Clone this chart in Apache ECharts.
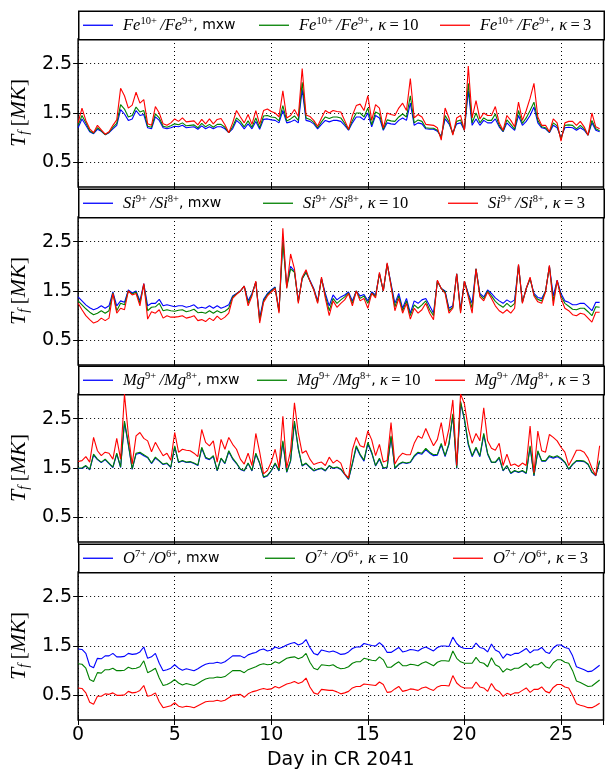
<!DOCTYPE html>
<html><head><meta charset="utf-8">
<script src="https://cdn.jsdelivr.net/npm/echarts@6/dist/echarts.min.js"></script>
<style>html,body{margin:0;padding:0;background:#fff}#c{width:605px;height:772px}</style>
</head><body><div id="c"></div>
<script>
// ---------------- data ----------------
const days = [0,0.2,0.4,0.6,0.8,1,1.2,1.4,1.6,1.8,2,2.2,2.4,2.6,2.8,3,3.2,3.4,3.6,3.8,
4,4.2,4.4,4.6,4.8,5,5.2,5.4,5.6,5.8,6,6.2,6.4,6.6,6.8,7,7.2,7.4,7.6,7.8,
8,8.2,8.4,8.6,8.8,9,9.2,9.4,9.6,9.8,10,10.2,10.4,10.6,10.8,11,11.2,11.4,11.6,11.8,
12,12.2,12.4,12.6,12.8,13,13.2,13.4,13.6,13.8,14,14.2,14.4,14.6,14.8,15,15.2,15.4,15.6,15.8,
16,16.2,16.4,16.6,16.8,17,17.2,17.4,17.6,17.8,18,18.2,18.4,18.6,18.8,19,19.2,19.4,19.6,19.8,
20,20.2,20.4,20.6,20.8,21,21.2,21.4,21.6,21.8,22,22.2,22.4,22.6,22.8,23,23.2,23.4,23.6,23.8,
24,24.2,24.4,24.6,24.8,25,25.2,25.4,25.6,25.8,26,26.2,26.4,26.6,26.8,27];

const feMxw = [1.20,1.38,1.25,1.12,1.08,1.17,1.13,1.06,1.10,1.18,
1.25,1.57,1.48,1.35,1.38,1.55,1.45,1.47,1.20,1.18,
1.42,1.35,1.20,1.18,1.20,1.23,1.22,1.25,1.20,1.21,
1.22,1.17,1.24,1.18,1.22,1.18,1.22,1.22,1.18,1.10,
1.18,1.35,1.28,1.18,1.28,1.18,1.33,1.17,1.37,1.38,
1.36,1.35,1.30,1.55,1.30,1.32,1.36,1.30,1.98,1.35,
1.33,1.28,1.18,1.27,1.35,1.32,1.35,1.35,1.33,1.25,
1.15,1.30,1.42,1.42,1.36,1.50,1.22,1.45,1.40,1.15,
1.30,1.28,1.27,1.35,1.40,1.35,1.70,1.25,1.30,1.28,
1.18,1.17,1.17,1.13,1.03,1.38,1.28,1.10,1.28,1.30,
1.15,1.95,1.25,1.38,1.25,1.35,1.30,1.30,1.38,1.22,
1.12,1.30,1.22,1.15,1.45,1.25,1.33,1.45,1.62,1.30,
1.20,1.18,1.10,1.25,1.20,1.00,1.20,1.21,1.20,1.15,
1.20,1.15,1.05,1.30,1.15,1.12];
const feK10 = [1.25,1.45,1.30,1.14,1.09,1.20,1.14,1.06,1.11,1.21,
1.29,1.67,1.58,1.42,1.45,1.62,1.52,1.55,1.23,1.21,
1.48,1.40,1.23,1.21,1.24,1.28,1.26,1.30,1.24,1.25,
1.26,1.20,1.29,1.22,1.27,1.21,1.27,1.27,1.21,1.10,
1.22,1.40,1.33,1.22,1.34,1.21,1.40,1.20,1.44,1.45,
1.42,1.41,1.34,1.65,1.34,1.38,1.44,1.35,2.12,1.40,
1.37,1.31,1.20,1.32,1.42,1.39,1.42,1.42,1.40,1.29,
1.16,1.35,1.50,1.50,1.42,1.60,1.26,1.52,1.48,1.17,
1.36,1.34,1.33,1.42,1.48,1.42,1.85,1.30,1.36,1.33,
1.20,1.19,1.19,1.15,1.00,1.45,1.32,1.07,1.33,1.36,
1.15,2.10,1.30,1.50,1.30,1.40,1.35,1.35,1.48,1.25,
1.13,1.36,1.27,1.17,1.55,1.29,1.40,1.55,1.72,1.35,
1.22,1.20,1.11,1.30,1.24,0.97,1.25,1.26,1.25,1.18,
1.25,1.18,1.05,1.35,1.18,1.14];
const feK3 = [1.30,1.60,1.35,1.18,1.10,1.25,1.16,1.07,1.12,1.25,
1.36,2.00,1.85,1.60,1.66,1.92,1.70,1.77,1.28,1.25,
1.63,1.50,1.28,1.25,1.30,1.38,1.33,1.40,1.32,1.33,
1.34,1.26,1.37,1.28,1.38,1.28,1.37,1.39,1.26,1.10,
1.30,1.55,1.42,1.30,1.47,1.27,1.55,1.27,1.55,1.58,
1.53,1.50,1.42,1.95,1.40,1.45,1.57,1.43,2.40,1.46,
1.43,1.35,1.23,1.40,1.55,1.50,1.55,1.53,1.52,1.35,
1.17,1.45,1.65,1.68,1.55,1.85,1.35,1.67,1.60,1.20,
1.50,1.47,1.45,1.60,1.70,1.55,2.20,1.40,1.47,1.42,
1.27,1.26,1.25,1.20,0.95,1.60,1.40,1.05,1.40,1.45,
1.15,2.45,1.40,1.75,1.38,1.50,1.45,1.45,1.63,1.30,
1.15,1.45,1.35,1.22,1.72,1.35,1.55,1.80,2.10,1.42,
1.25,1.25,1.12,1.38,1.30,0.93,1.30,1.33,1.33,1.25,
1.33,1.22,1.05,1.50,1.22,1.18];

const siMxw = [1.38,1.30,1.22,1.16,1.12,1.15,1.20,1.15,1.20,1.48,
1.20,1.30,1.27,1.52,1.46,1.50,1.30,1.65,1.20,1.25,
1.25,1.33,1.20,1.22,1.20,1.18,1.20,1.20,1.17,1.19,
1.22,1.15,1.17,1.15,1.20,1.15,1.20,1.15,1.18,1.22,
1.40,1.45,1.50,1.60,1.30,1.45,1.68,0.95,1.33,1.45,
1.52,1.58,1.10,2.55,1.60,2.00,1.90,1.30,1.75,1.88,
1.72,1.55,1.30,1.75,1.45,1.20,1.42,1.32,1.38,1.42,
1.48,1.30,1.50,1.40,1.43,1.30,1.48,1.42,1.85,1.50,
2.05,1.65,1.25,1.45,1.15,1.35,1.05,1.30,1.25,1.32,
1.35,1.20,1.05,1.70,1.55,1.50,1.15,1.20,1.85,1.12,
1.70,1.45,1.25,1.95,1.45,1.38,1.52,1.45,1.36,1.30,
1.25,1.32,1.27,1.32,2.02,1.28,1.55,1.75,1.45,1.37,
1.35,1.50,2.00,1.40,1.72,1.45,1.30,1.27,1.22,1.22,
1.25,1.25,1.18,1.10,1.27,1.27];
const siK10 = [1.30,1.22,1.14,1.07,1.02,1.05,1.10,1.05,1.10,1.46,
1.10,1.25,1.22,1.50,1.44,1.48,1.25,1.63,1.10,1.17,
1.18,1.25,1.10,1.12,1.10,1.09,1.11,1.12,1.08,1.10,
1.13,1.06,1.07,1.05,1.10,1.05,1.10,1.06,1.09,1.15,
1.38,1.44,1.50,1.60,1.25,1.43,1.68,0.90,1.30,1.43,
1.50,1.57,1.08,2.50,1.57,1.95,1.88,1.28,1.75,1.88,
1.70,1.53,1.27,1.75,1.40,1.10,1.35,1.25,1.32,1.38,
1.46,1.25,1.50,1.35,1.40,1.25,1.46,1.39,1.85,1.50,
2.05,1.62,1.18,1.40,1.10,1.30,1.00,1.22,1.15,1.22,
1.30,1.12,1.00,1.70,1.55,1.48,1.10,1.17,1.85,1.08,
1.70,1.42,1.15,1.95,1.42,1.34,1.50,1.40,1.29,1.22,
1.17,1.25,1.18,1.25,2.02,1.27,1.55,1.75,1.42,1.33,
1.30,1.50,2.00,1.30,1.70,1.40,1.25,1.19,1.13,1.12,
1.15,1.15,1.08,1.00,1.18,1.17];
const siK3 = [1.25,1.12,1.00,0.92,0.85,0.88,0.95,0.90,0.95,1.45,
1.05,1.15,1.12,1.50,1.42,1.45,1.20,1.65,0.93,1.08,
1.05,1.12,0.95,1.00,0.97,0.97,0.98,1.00,0.95,0.97,
1.00,0.90,0.92,0.88,0.95,0.90,0.99,0.92,0.97,1.05,
1.35,1.43,1.50,1.60,1.20,1.40,1.70,0.85,1.27,1.40,
1.48,1.55,1.05,2.77,1.55,2.25,1.95,1.25,1.78,1.93,
1.70,1.52,1.25,1.78,1.35,1.00,1.30,1.17,1.25,1.32,
1.45,1.20,1.50,1.30,1.35,1.15,1.45,1.36,1.88,1.50,
2.07,1.60,1.10,1.35,1.05,1.25,0.93,1.15,1.05,1.12,
1.25,1.05,0.92,1.72,1.55,1.45,1.05,1.15,1.85,1.05,
1.70,1.38,1.05,1.95,1.38,1.30,1.48,1.35,1.20,1.10,
1.05,1.12,1.05,1.15,2.04,1.25,1.55,1.78,1.40,1.28,
1.25,1.48,2.02,1.20,1.72,1.35,1.15,1.10,1.02,1.00,
1.05,1.03,0.95,0.87,1.07,1.07];

const mgMxw = [1.49,1.49,1.54,1.46,1.76,1.67,1.61,1.67,1.59,1.51,
1.78,1.51,2.42,1.97,1.47,1.78,1.80,1.75,1.71,1.59,
1.70,1.64,1.57,1.59,1.51,1.93,1.61,1.64,1.61,1.62,
1.59,1.55,1.90,1.70,1.67,1.73,1.44,1.69,1.59,1.83,
1.68,1.59,1.47,1.44,1.59,1.44,1.78,1.59,1.31,1.34,
1.44,1.58,1.44,2.02,1.41,1.64,2.42,1.88,1.54,1.59,
1.51,1.44,1.47,1.49,1.44,1.54,1.49,1.51,1.47,1.37,
1.27,1.58,1.92,1.76,1.64,1.99,1.80,1.54,1.68,1.49,
1.51,2.12,1.49,1.57,1.61,1.59,1.61,1.73,1.80,1.78,
1.87,1.80,1.75,1.76,1.97,1.73,1.98,2.57,1.49,2.82,
2.47,1.97,1.73,1.90,1.73,2.17,1.78,1.61,1.61,1.70,
1.44,1.54,1.39,1.44,1.41,1.44,1.39,1.92,1.34,1.83,
1.64,1.64,1.73,1.70,1.73,1.68,1.61,1.47,1.57,1.64,
1.64,1.63,1.57,1.41,1.34,1.63];
const mgK10 = [1.50,1.50,1.55,1.47,1.78,1.68,1.62,1.68,1.60,1.52,
1.80,1.52,2.45,2.00,1.48,1.80,1.82,1.77,1.72,1.60,
1.72,1.65,1.58,1.60,1.52,1.95,1.62,1.65,1.62,1.63,
1.60,1.56,1.92,1.72,1.68,1.75,1.45,1.70,1.60,1.85,
1.70,1.60,1.48,1.45,1.60,1.45,1.80,1.60,1.32,1.35,
1.45,1.60,1.45,2.05,1.42,1.65,2.45,1.90,1.55,1.60,
1.52,1.45,1.48,1.50,1.45,1.55,1.50,1.52,1.48,1.38,
1.28,1.60,1.95,1.78,1.66,2.02,1.82,1.55,1.70,1.50,
1.52,2.15,1.50,1.58,1.62,1.60,1.62,1.75,1.82,1.80,
1.90,1.82,1.77,1.78,2.00,1.75,2.00,2.60,1.50,2.85,
2.50,2.00,1.75,1.92,1.75,2.20,1.80,1.62,1.62,1.72,
1.45,1.55,1.40,1.45,1.42,1.45,1.40,1.95,1.35,1.85,
1.65,1.65,1.75,1.72,1.75,1.70,1.62,1.48,1.58,1.65,
1.65,1.64,1.58,1.42,1.35,1.65];
const mgK3 = [1.63,1.65,1.73,1.62,2.12,1.85,1.75,1.82,1.80,1.68,
2.10,1.68,3.00,2.18,1.58,2.15,2.22,2.10,2.05,1.83,
2.02,1.88,1.75,1.80,1.66,2.22,1.82,1.88,1.86,1.85,
1.80,1.73,2.28,2.02,1.95,2.05,1.62,2.08,1.88,2.12,
1.98,1.88,1.68,1.58,1.80,1.55,2.20,1.82,1.38,1.45,
1.62,1.88,1.50,2.55,1.50,1.85,2.82,2.20,1.80,1.85,
1.68,1.57,1.60,1.62,1.55,1.72,1.60,1.66,1.60,1.38,
1.30,1.87,2.12,1.95,1.92,2.25,2.07,1.75,1.98,1.62,
1.65,2.42,1.58,1.72,1.80,1.77,1.77,2.00,2.15,2.10,
2.30,2.12,1.95,2.08,2.42,1.95,2.30,2.88,1.55,3.00,
2.80,2.30,2.00,2.20,2.05,2.72,2.05,1.90,1.86,2.00,
1.55,1.78,1.55,1.58,1.53,1.60,1.55,2.35,1.40,2.25,
1.85,1.82,2.18,2.12,2.05,1.92,1.82,1.55,1.70,1.86,
1.86,1.82,1.70,1.50,1.35,1.95];

const oMxw = [1.44,1.43,1.35,1.10,1.06,1.25,1.24,1.30,1.30,1.35,
1.28,1.28,1.29,1.35,1.33,1.34,1.38,1.48,1.25,1.28,
1.35,1.15,1.00,1.02,1.05,1.12,1.05,1.01,1.04,1.02,
1.00,1.04,1.09,1.13,1.15,1.15,1.17,1.15,1.18,1.24,
1.30,1.30,1.30,1.26,1.32,1.35,1.37,1.42,1.44,1.40,
1.42,1.48,1.45,1.48,1.52,1.55,1.57,1.52,1.55,1.63,
1.47,1.35,1.32,1.42,1.40,1.38,1.40,1.37,1.33,1.34,
1.38,1.45,1.48,1.48,1.55,1.53,1.51,1.50,1.57,1.50,
1.37,1.37,1.42,1.47,1.38,1.40,1.43,1.42,1.40,1.45,
1.48,1.44,1.40,1.47,1.50,1.50,1.49,1.68,1.55,1.48,
1.45,1.45,1.45,1.56,1.47,1.45,1.38,1.54,1.42,1.38,
1.25,1.34,1.31,1.35,1.35,1.40,1.45,1.36,1.42,1.42,
1.47,1.38,1.35,1.46,1.52,1.52,1.47,1.45,1.30,1.08,
1.05,1.02,0.98,0.99,1.05,1.11];
const oK10 = [1.14,1.13,1.05,0.82,0.78,0.96,0.95,1.02,1.02,1.05,
1.00,1.00,1.01,1.07,1.04,1.05,1.08,1.20,0.96,1.00,
1.05,0.85,0.70,0.72,0.76,0.82,0.75,0.71,0.74,0.72,
0.70,0.74,0.79,0.83,0.85,0.85,0.87,0.86,0.88,0.94,
1.00,1.00,1.00,0.96,1.02,1.05,1.08,1.12,1.14,1.12,
1.13,1.18,1.15,1.20,1.25,1.27,1.28,1.24,1.27,1.35,
1.17,1.05,1.02,1.12,1.11,1.10,1.12,1.07,1.04,1.05,
1.08,1.15,1.18,1.18,1.25,1.23,1.21,1.20,1.28,1.22,
1.07,1.07,1.13,1.18,1.10,1.10,1.13,1.12,1.10,1.15,
1.18,1.14,1.10,1.17,1.20,1.20,1.19,1.40,1.25,1.18,
1.15,1.15,1.15,1.27,1.17,1.15,1.08,1.26,1.12,1.08,
0.97,1.04,1.01,1.05,1.05,1.10,1.15,1.06,1.12,1.12,
1.17,1.08,1.05,1.16,1.22,1.22,1.17,1.15,1.00,0.79,
0.76,0.72,0.68,0.69,0.75,0.81];
const oK3 = [0.65,0.64,0.55,0.36,0.32,0.48,0.48,0.53,0.52,0.55,
0.50,0.50,0.51,0.58,0.55,0.56,0.60,0.70,0.48,0.50,
0.55,0.37,0.25,0.27,0.29,0.35,0.28,0.26,0.28,0.27,
0.25,0.29,0.33,0.37,0.38,0.38,0.40,0.38,0.40,0.45,
0.50,0.51,0.52,0.46,0.53,0.57,0.59,0.62,0.64,0.62,
0.63,0.68,0.65,0.69,0.73,0.75,0.78,0.74,0.77,0.85,
0.67,0.55,0.52,0.62,0.61,0.60,0.60,0.57,0.53,0.55,
0.58,0.65,0.68,0.68,0.73,0.72,0.71,0.70,0.77,0.72,
0.56,0.57,0.63,0.68,0.58,0.60,0.63,0.62,0.60,0.65,
0.67,0.63,0.60,0.67,0.70,0.70,0.69,0.90,0.75,0.68,
0.65,0.65,0.65,0.77,0.67,0.65,0.58,0.74,0.62,0.58,
0.48,0.54,0.51,0.55,0.55,0.60,0.65,0.56,0.62,0.62,
0.67,0.58,0.55,0.66,0.72,0.72,0.67,0.65,0.50,0.33,
0.30,0.28,0.25,0.25,0.29,0.34];

const xTicks = [0, 5, 10, 15, 20, 25];
const yTicks = [0.5, 1.5, 2.5];
const ions = [
  {el: 'Fe', hi: '10+', lo: '9+', mxw: feMxw, k10: feK10, k3: feK3},
  {el: 'Si', hi: '9+',  lo: '8+', mxw: siMxw, k10: siK10, k3: siK3},
  {el: 'Mg', hi: '9+',  lo: '8+', mxw: mgMxw, k10: mgK10, k3: mgK3},
  {el: 'O',  hi: '7+',  lo: '6+', mxw: oMxw,  k10: oK10,  k3: oK3}
];
const kinds = ['mxw', 'k10', 'k3'];
const kindText = {mxw: '{n|, mxw}', k10: '{n|, }{m|κ}{u|\u2009=\u200910}', k3: '{n|, }{m|κ}{u|\u2009=\u20093}'};

// ---------------- layout / style ----------------
const colors = {mxw: '#0000ff', k10: '#008000', k3: '#ff0000'};
const GL = 78, GR = 1.5, PH = 148, LH = 28.5;
const plotTops = [39, 217, 394, 572];
const legendLefts = [[83, 259, 440], [83, 263, 448], [83, 257, 435], [83, 265, 453]];
const XMAX = 27.2;

const rich = {
  sp: {width: 5},
  m: {fontFamily: 'Liberation Serif', fontStyle: 'italic', fontSize: 16.5, color: '#000', lineHeight: 20},
  s: {fontFamily: 'Liberation Serif', fontSize: 10.5, color: '#000', verticalAlign: 'top', lineHeight: 10},
  u: {fontFamily: 'Liberation Serif', fontSize: 16.5, color: '#000', lineHeight: 20},
  n: {fontFamily: 'DejaVu Sans', fontSize: 14, color: '#000', lineHeight: 20}
};

const grids = [], xAxes = [], yAxes = [], series = [], legends = [], graphics = [];
const labelOf = {};

ions.forEach((ion, i) => {
  const top = plotTops[i];
  grids.push({left: GL, right: GR, top: top, height: PH, show: true, borderColor: '#000', borderWidth: 1.5, backgroundColor: 'transparent'});
  const tickStyle = {show: true, inside: true, length: 5, lineStyle: {color: '#000', width: 1}};
  xAxes.push({
    gridIndex: i, type: 'value', min: 0, max: XMAX, interval: 5, position: 'bottom',
    axisLine: {show: false}, axisTick: tickStyle,
    axisLabel: {show: i === 3, showMaxLabel: false, fontFamily: 'DejaVu Sans', fontSize: 19, color: '#000', margin: 6},
    splitLine: {show: true, lineStyle: {type: [1, 3], color: '#000', width: 1}},
    name: i === 3 ? 'Day in CR 2041' : '', nameLocation: 'middle', nameGap: 31,
    nameTextStyle: {fontFamily: 'DejaVu Sans', fontSize: 19, color: '#000'}
  });
  xAxes.push({
    gridIndex: i, type: 'value', min: 0, max: XMAX, interval: 5, position: 'top',
    axisLine: {show: false}, axisTick: tickStyle, axisLabel: {show: false}, splitLine: {show: false}
  });
  yAxes.push({
    gridIndex: i, type: 'value', min: 0, max: 3, interval: 0.5, position: 'left',
    axisLine: {show: false},
    axisTick: Object.assign({customValues: yTicks}, tickStyle),
    axisLabel: {customValues: yTicks, fontFamily: 'DejaVu Sans', fontSize: 19, color: '#000', margin: 6,
      formatter: v => v.toFixed(1)},
    splitLine: {show: false},
    name: '{t|T}{f|f}{b|\u2009[}{t|MK}{b|]}', nameLocation: 'middle', nameGap: 46, nameRotate: 90,
    nameTextStyle: {rich: {
      t: {fontFamily: 'Liberation Serif', fontStyle: 'italic', fontSize: 22, color: '#000', lineHeight: 24},
      f: {fontFamily: 'Liberation Serif', fontStyle: 'italic', fontSize: 14, color: '#000', verticalAlign: 'bottom', lineHeight: 14},
      b: {fontFamily: 'Liberation Serif', fontSize: 22, color: '#000', lineHeight: 24}
    }}
  });
  yAxes.push({
    gridIndex: i, type: 'value', min: 0, max: 3, interval: 0.5, position: 'right',
    axisLine: {show: false}, axisTick: Object.assign({customValues: yTicks}, tickStyle),
    axisLabel: {show: false}, splitLine: {show: false}
  });

  const lt = top - LH;
  graphics.push({type: 'rect', left: GL, top: lt, z: 1,
    shape: {width: 605 - GL - GR, height: LH},
    style: {fill: '#fff', stroke: '#000', lineWidth: 1.5}});

  kinds.forEach((k, j) => {
    const name = ion.el + ' ' + k;
    labelOf[name] = '{sp| }{m|' + ion.el + '}{s|' + ion.hi + '}{m|\u2009/' + ion.el + '}{s|' + ion.lo + '}' + kindText[k];
    const s = {
      name: name, type: 'line', xAxisIndex: 2 * i, yAxisIndex: 2 * i,
      data: days.map((d, n) => [d, ion[k][n]]),
      symbol: 'none', showSymbol: false, color: colors[k],
      lineStyle: {color: colors[k], width: 1.1}, animation: false, z: 3
    };
    if (j === 0) {
      s.markLine = {silent: true, symbol: ['none', 'none'], label: {show: false}, z: 1, animation: false,
        lineStyle: {type: [1, 3], color: '#000', width: 1},
        data: yTicks.map(v => ({yAxis: v}))};
    }
    series.push(s);
    legends.push({
      data: [name], left: legendLefts[i][j], top: lt + LH / 2 - 9.5, padding: 0,
      icon: 'rect', itemWidth: 30, itemHeight: 1.3, itemGap: 0, selectedMode: false,
      itemStyle: {color: colors[k], borderWidth: 0},
      formatter: nm => labelOf[nm], textStyle: {rich: rich, color: '#000'}
    });
  });
});

const chart = echarts.init(document.getElementById('c'), null, {renderer: 'canvas'});
chart.setOption({
  animation: false,
  backgroundColor: '#fff',
  textStyle: {fontFamily: 'DejaVu Sans'},
  grid: grids, xAxis: xAxes, yAxis: yAxes, series: series, legend: legends,
  graphic: graphics
});
</script></body></html>
